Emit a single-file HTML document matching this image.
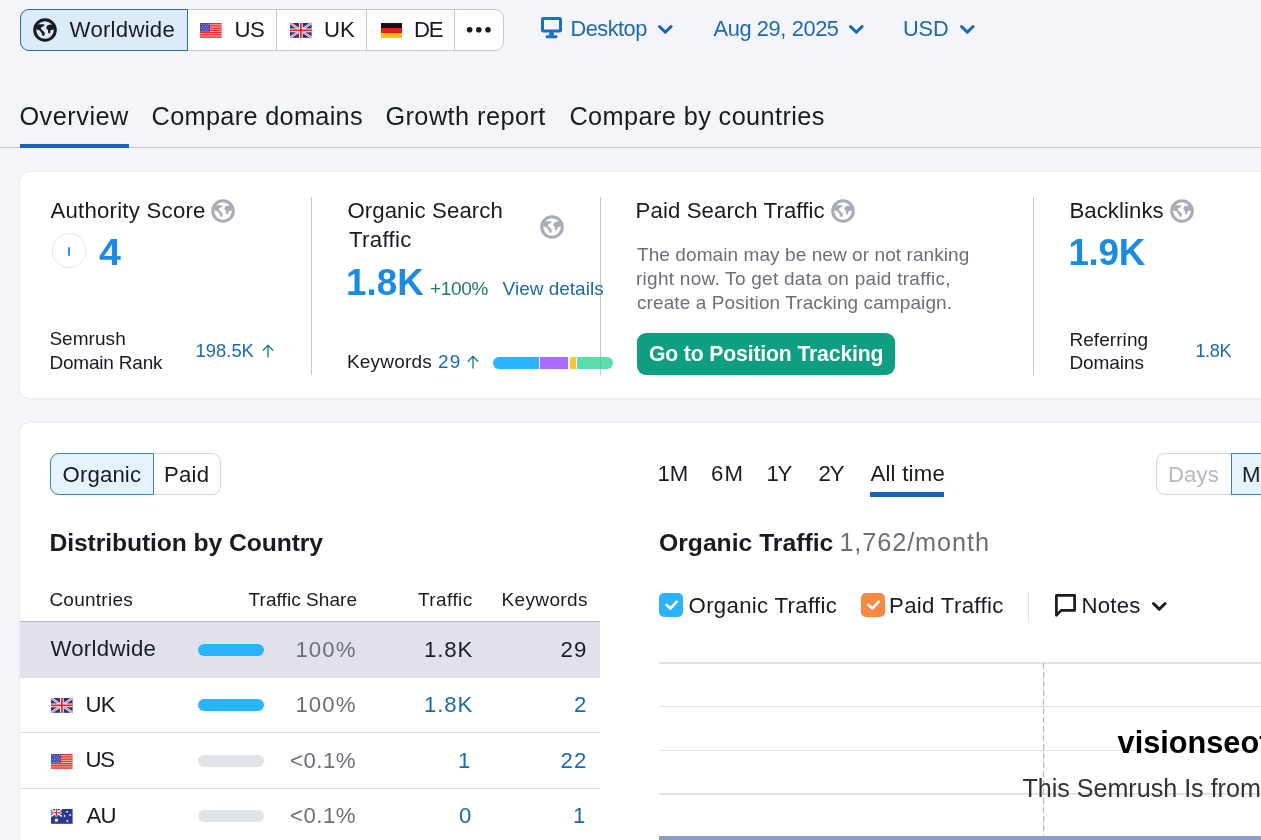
<!DOCTYPE html>
<html><head><meta charset="utf-8"><title>Domain Overview</title>
<style>
html,body{margin:0;padding:0;}
body{width:1261px;height:840px;overflow:hidden;background:#f4f5f9;font-family:"Liberation Sans",sans-serif;}
#root{position:relative;width:1261px;height:840px;overflow:hidden;will-change:transform;}
.t{position:absolute;white-space:nowrap;line-height:1;}
.a{position:absolute;box-sizing:border-box;}
svg{position:absolute;overflow:visible;}

</style></head>
<body>
<div id="root">
<!-- ===== top pill group ===== -->
<div class="a" style="left:20px;top:9px;width:484px;height:42px;background:#fff;border:1px solid #c4c7cf;border-radius:9px;"></div>
<div class="a" style="left:20px;top:9px;width:168px;height:42px;background:#dcebfa;border:1.5px solid #2d6f93;border-radius:9px 0 0 9px;"></div>
<div class="a" style="left:276px;top:10px;width:1px;height:40px;background:#c4c7cf;"></div>
<div class="a" style="left:366px;top:10px;width:1px;height:40px;background:#c4c7cf;"></div>
<div class="a" style="left:454px;top:10px;width:1px;height:40px;background:#c4c7cf;"></div>
<svg width="0" height="0" style="left:0;top:0"><defs>
<g id="globe"><circle cx="12" cy="12" r="10.3" fill="none" stroke="currentColor" stroke-width="3"/>
<path fill="currentColor" d="M2.8 9.2C3.6 7.6 4.8 6.6 5.9 6.2L10.9 6.2C11.6 6.5 11.6 7.3 11 7.7L8.1 9.4C7.7 10.2 7.9 10.8 8.5 11.5L11.2 14C11.9 15 11.9 16.3 11.5 17.3C10.9 18.3 9.8 18.3 9.4 17.6C9 16.6 8.9 15.6 8.5 14.9C8 13.8 7.2 12.8 6.4 12.2C5.4 11.6 4 11.5 2.8 11.2Z"/>
<path fill="currentColor" d="M13.3 9.6C13.5 8.2 14.3 7.3 15.4 7L18.6 6.6C19.9 6.8 20.9 7.6 21.4 8.4L21.6 11.3C20.3 11.7 18.7 11.9 17.5 12.3L17.3 14.7C17.1 15.5 16.2 15.8 15.6 15.3C15 14.4 15.1 13 15 12C14.1 11.4 13.3 10.6 13.3 9.6Z"/></g>
<g id="chev"><polyline points="1.5,1.5 7.3,7.3 13.1,1.5" fill="none" stroke="currentColor" stroke-width="3" stroke-linecap="round" stroke-linejoin="round"/></g>
<g id="up"><path d="M6 14V2.4M1.2 7.2L6 2.2L10.8 7.2" fill="none" stroke="currentColor" stroke-width="1.35" stroke-linecap="round" stroke-linejoin="round"/></g>
<g id="us"><rect width="21.6" height="14.8" fill="#f6eaea"/>
<g fill="#e8302c"><rect y="0" width="21.6" height="1.5"/><rect y="2.2" width="21.6" height="1.5"/><rect y="4.4" width="21.6" height="1.5"/><rect y="6.6" width="21.6" height="1.6"/><rect y="8.9" width="21.6" height="1.6"/><rect y="11.1" width="21.6" height="1.5"/><rect y="13.3" width="21.6" height="1.5"/></g>
<rect width="10" height="8.7" fill="#4b4ca8"/><g fill="#fff" opacity=".5"><circle cx="1.6" cy="1.6" r=".5"/><circle cx="4" cy="1.6" r=".5"/><circle cx="6.4" cy="1.6" r=".5"/><circle cx="8.6" cy="1.6" r=".5"/><circle cx="2.8" cy="3.4" r=".5"/><circle cx="5.2" cy="3.4" r=".5"/><circle cx="7.6" cy="3.4" r=".5"/><circle cx="1.6" cy="5.2" r=".5"/><circle cx="4" cy="5.2" r=".5"/><circle cx="6.4" cy="5.2" r=".5"/><circle cx="8.6" cy="5.2" r=".5"/><circle cx="2.8" cy="7" r=".5"/><circle cx="5.2" cy="7" r=".5"/><circle cx="7.6" cy="7" r=".5"/></g></g>
<g id="uk"><rect width="21.6" height="14.8" fill="#2b2f77"/>
<path d="M0 0L21.6 14.8M21.6 0L0 14.8" stroke="#e8e8f2" stroke-width="2.4"/><path d="M0 0L21.6 14.8M21.6 0L0 14.8" stroke="#d93a3a" stroke-width="0.7"/>
<path d="M10.8 0V14.8M0 7.4H21.6" stroke="#f4f4f8" stroke-width="3.8"/><path d="M10.8 0V14.8M0 7.4H21.6" stroke="#dc2430" stroke-width="1.8"/></g>
<g id="de"><rect width="21" height="5" fill="#141414"/><rect y="5" width="21" height="5" fill="#de2016"/><rect y="10" width="21" height="4.8" fill="#f7ba1c"/></g>
<g id="au"><rect width="21.6" height="14.8" fill="#2a3a8e"/>
<g transform="scale(0.5)"><path d="M0 0L21.6 14.8M21.6 0L0 14.8" stroke="#fff" stroke-width="3"/><path d="M10.8 0V14.8M0 7.4H21.6" stroke="#fff" stroke-width="4.6"/><path d="M10.8 0V14.8M0 7.4H21.6" stroke="#dc2430" stroke-width="2.2"/></g>
<g fill="#fff"><circle cx="5.4" cy="11.2" r="1.6"/><circle cx="16.2" cy="2.8" r="0.9"/><circle cx="19.2" cy="6" r="0.9"/><circle cx="13.6" cy="6.9" r="0.9"/><circle cx="16.4" cy="12" r="1"/></g></g>
</defs></svg>
<svg style="left:33px;top:18px;color:#191b23" width="24" height="24"><use href="#globe"/></svg>
<svg style="left:200.2px;top:23.1px" width="21.6" height="14.8"><use href="#us"/></svg>
<svg style="left:290.2px;top:23.1px" width="21.6" height="14.8"><use href="#uk"/></svg>
<svg style="left:380.5px;top:23.1px" width="21.6" height="14.8"><use href="#de"/></svg>
<svg style="left:466px;top:26px" width="26" height="8"><circle cx="3.6" cy="3.8" r="2.8" fill="#191b23"/><circle cx="12.8" cy="3.8" r="2.8" fill="#191b23"/><circle cx="22" cy="3.8" r="2.8" fill="#191b23"/></svg>
<!-- desktop icon -->
<svg style="left:541.4px;top:17px" width="21" height="21.5"><rect x="1.5" y="1.5" width="18" height="12.4" rx="1" fill="none" stroke="#1a6fc4" stroke-width="3"/><path d="M8.6 15h3.8l0.8 3.4h-5.4z" fill="#1a6fc4"/><rect x="4.6" y="18.2" width="11.8" height="3" rx="1.3" fill="#1a6fc4"/></svg>
<svg style="left:657.7px;top:25px;color:#1a64b0" width="15" height="9"><use href="#chev"/></svg>
<svg style="left:848.7px;top:25px;color:#1a64b0" width="15" height="9"><use href="#chev"/></svg>
<svg style="left:960.2px;top:25px;color:#1a64b0" width="15" height="9"><use href="#chev"/></svg>
<!-- ===== tabs ===== -->
<div class="a" style="left:0;top:147px;width:1261px;height:1px;background:#c4c7cf;"></div>
<div class="a" style="left:20px;top:144px;width:109px;height:4px;background:#1663b8;"></div>
<!-- ===== card 1 ===== -->
<div class="a" style="left:20px;top:172px;width:1300px;height:226px;background:#fff;border-radius:9px;box-shadow:0 0 2px rgba(25,27,35,0.14);"></div>
<!-- authority -->
<svg style="left:211px;top:199px;color:#a9abb6" width="24" height="24"><use href="#globe"/></svg>
<div class="a" style="left:51.6px;top:233.4px;width:34.4px;height:34.4px;border:1.7px solid #e6e7ec;border-radius:50%;"></div>
<div class="a" style="left:67.6px;top:246.6px;width:2.2px;height:9.4px;background:#2a8fe0;border-radius:1px;"></div>
<svg style="left:261.8px;top:343px;color:#1a8076" width="12" height="15"><use href="#up"/></svg>
<!-- organic -->
<svg style="left:540px;top:214.7px;color:#a9abb6" width="24" height="24"><use href="#globe"/></svg>
<svg style="left:467.2px;top:354px;color:#1a8076" width="12" height="15"><use href="#up"/></svg>
<div class="a" style="left:492.7px;top:357.3px;width:120.6px;height:12px;border-radius:6px;overflow:hidden;background:#fff;">
 <div class="a" style="left:0;top:0;width:46px;height:12px;background:#2bb3ff;"></div>
 <div class="a" style="left:47.3px;top:0;width:27.7px;height:12px;background:#ab6cfe;"></div>
 <div class="a" style="left:77.6px;top:0;width:5.8px;height:12px;background:#fdc23c;"></div>
 <div class="a" style="left:84.6px;top:0;width:36px;height:12px;background:#59ddaa;"></div>
</div>
<div class="a" style="left:311px;top:197px;width:1px;height:178px;background:#c4c7cf;"></div>
<div class="a" style="left:600px;top:197px;width:1px;height:178px;background:rgba(150,155,170,0.55);"></div>
<div class="a" style="left:1033px;top:197px;width:1px;height:178px;background:#c4c7cf;"></div>
<!-- paid -->
<svg style="left:831px;top:199px;color:#a9abb6" width="24" height="24"><use href="#globe"/></svg>
<div class="a" style="left:637px;top:333px;width:258px;height:42px;background:#0e9f82;border-radius:9px;"></div>
<!-- backlinks -->
<svg style="left:1170px;top:199px;color:#a9abb6" width="24" height="24"><use href="#globe"/></svg>
<!-- ===== card 2 ===== -->
<div class="a" style="left:20px;top:423px;width:1300px;height:500px;background:#fff;border-radius:9px;box-shadow:0 0 2px rgba(25,27,35,0.14);"></div>
<!-- organic/paid pill -->
<div class="a" style="left:50px;top:453px;width:171px;height:42px;background:#fff;border:1px solid #d2d4da;border-radius:9px;"></div>
<div class="a" style="left:50px;top:453px;width:104px;height:42px;background:#e7f3fc;border:1.2px solid #3b82b4;border-radius:9px 0 0 9px;"></div>
<!-- table -->
<div class="a" style="left:20px;top:621px;width:579.5px;height:56.8px;background:#e0e1e9;"></div>
<div class="a" style="left:20px;top:620.6px;width:579.5px;height:1.2px;background:#b4b7c2;"></div>
<div class="a" style="left:20px;top:732px;width:579.5px;height:1px;background:#e0e1e9;"></div>
<div class="a" style="left:20px;top:787.8px;width:579.5px;height:1px;background:#e0e1e9;"></div>
<div class="a" style="left:198px;top:644px;width:66px;height:12px;border-radius:6px;background:#2bb3ff;"></div>
<div class="a" style="left:198px;top:699.3px;width:66px;height:12px;border-radius:6px;background:#2bb3ff;"></div>
<div class="a" style="left:198px;top:755px;width:66px;height:12px;border-radius:6px;background:#e0e4e8;"></div>
<div class="a" style="left:198px;top:810.3px;width:66px;height:12px;border-radius:6px;background:#e0e4e8;"></div>
<svg style="left:51.2px;top:698.4px" width="21.6" height="14.8"><use href="#uk"/></svg>
<svg style="left:51.2px;top:754.2px" width="21.6" height="14.8"><use href="#us"/></svg>
<svg style="left:51.2px;top:809.4px" width="21.6" height="14.8"><use href="#au"/></svg>
<!-- period tabs underline -->
<div class="a" style="left:870px;top:492px;width:74px;height:4.5px;background:#1663b8;"></div>
<!-- days/months pill -->
<div class="a" style="left:1156px;top:453px;width:140px;height:42px;background:#fff;border:1px solid #d2d4da;border-radius:9px;"></div>
<div class="a" style="left:1231px;top:453px;width:70px;height:42px;background:#e7f3fc;border:1.2px solid #3b82b4;"></div>
<!-- checkboxes -->
<div class="a" style="left:659.3px;top:592.7px;width:24px;height:24px;background:#2bb3ff;border-radius:5px;"></div>
<svg style="left:659.3px;top:592.7px" width="24" height="24"><polyline points="7.4,11.8 11.4,15.5 17.8,8.7" fill="none" stroke="#fff" stroke-width="2.6" stroke-linecap="round" stroke-linejoin="round"/></svg>
<div class="a" style="left:860.7px;top:592.7px;width:24px;height:24px;background:#f68a45;border-radius:5px;"></div>
<svg style="left:860.7px;top:592.7px" width="24" height="24"><polyline points="7.4,11.8 11.4,15.5 17.8,8.7" fill="none" stroke="#fff" stroke-width="2.6" stroke-linecap="round" stroke-linejoin="round"/></svg>
<div class="a" style="left:1028px;top:591.7px;width:1px;height:30px;background:#e0e1e7;"></div>
<!-- notes icon -->
<svg style="left:1054.8px;top:593.6px" width="21" height="23"><path d="M1.4 21.2V1.4H19.6V16.4H6.2Z" fill="none" stroke="#191b23" stroke-width="2.7" stroke-linejoin="round"/></svg>
<svg style="left:1151.7px;top:602px;color:#191b23" width="15" height="9"><use href="#chev"/></svg>
<!-- chart -->
<div class="a" style="left:659px;top:662.2px;width:602px;height:1.4px;background:#e2e3e8;"></div>
<div class="a" style="left:659px;top:705.9px;width:602px;height:1.4px;background:#e2e3e8;"></div>
<div class="a" style="left:659px;top:749.5px;width:602px;height:1.4px;background:#e2e3e8;"></div>
<div class="a" style="left:659px;top:793.4px;width:602px;height:1.4px;background:#e2e3e8;"></div>
<div class="a" style="left:659px;top:836px;width:602px;height:4px;background:#8aa0c2;"></div>
<svg style="left:1042.8px;top:663px" width="2" height="174"><line x1="0.6" y1="0" x2="0.6" y2="174" stroke="#b8b8b8" stroke-width="1.2" stroke-dasharray="6 3"/></svg>

<span class="t" style="left:69.6px;top:18.51px;font-size:22.2px;font-weight:400;color:#191b23;letter-spacing:0.25px;">Worldwide</span>
<span class="t" style="left:234.6px;top:18.51px;font-size:22.2px;font-weight:400;color:#191b23;letter-spacing:-0.60px;">US</span>
<span class="t" style="left:324.0px;top:18.51px;font-size:22.2px;font-weight:400;color:#191b23;letter-spacing:0.00px;">UK</span>
<span class="t" style="left:413.9px;top:18.51px;font-size:22.2px;font-weight:400;color:#191b23;letter-spacing:-1.20px;">DE</span>
<span class="t" style="left:570.4px;top:17.55px;font-size:21.8px;font-weight:400;color:#1c69ad;letter-spacing:-0.50px;">Desktop</span>
<span class="t" style="left:713.6px;top:17.55px;font-size:21.8px;font-weight:400;color:#1c69ad;letter-spacing:-0.39px;">Aug 29, 2025</span>
<span class="t" style="left:903.0px;top:17.55px;font-size:21.8px;font-weight:400;color:#1c69ad;letter-spacing:-0.15px;">USD</span>
<span class="t" style="left:19.4px;top:103.58px;font-size:25.3px;font-weight:400;color:#191b23;letter-spacing:0.51px;">Overview</span>
<span class="t" style="left:151.6px;top:103.58px;font-size:25.3px;font-weight:400;color:#191b23;letter-spacing:0.31px;">Compare domains</span>
<span class="t" style="left:385.4px;top:103.58px;font-size:25.3px;font-weight:400;color:#191b23;letter-spacing:0.44px;">Growth report</span>
<span class="t" style="left:569.4px;top:103.58px;font-size:25.3px;font-weight:400;color:#191b23;letter-spacing:0.40px;">Compare by countries</span>
<span class="t" style="left:50.4px;top:199.51px;font-size:22.2px;font-weight:400;color:#191b23;letter-spacing:0.24px;">Authority Score</span>
<span class="t" style="left:98.6px;top:234.93px;font-size:36.7px;font-weight:700;color:#1a8ae2;letter-spacing:0.00px;transform:scaleX(1.07);transform-origin:left center;">4</span>
<span class="t" style="left:49.4px;top:328.92px;font-size:19.0px;font-weight:400;color:#191b23;letter-spacing:0.05px;">Semrush</span>
<span class="t" style="left:49.4px;top:353.22px;font-size:19.0px;font-weight:400;color:#191b23;letter-spacing:-0.20px;">Domain Rank</span>
<span class="t" style="left:195.6px;top:341.72px;font-size:18.4px;font-weight:400;color:#1c69ad;letter-spacing:0.00px;">198.5K</span>
<span class="t" style="left:347.4px;top:200.21px;font-size:22.2px;font-weight:400;color:#191b23;letter-spacing:0.10px;">Organic Search</span>
<span class="t" style="left:349.0px;top:229.21px;font-size:22.2px;font-weight:400;color:#191b23;letter-spacing:0.33px;">Traffic</span>
<span class="t" style="left:346.0px;top:264.93px;font-size:36.7px;font-weight:700;color:#1a8ae2;letter-spacing:0.07px;">1.8K</span>
<span class="t" style="left:430.0px;top:278.92px;font-size:19.0px;font-weight:400;color:#1f7a6c;letter-spacing:-0.33px;">+100%</span>
<span class="t" style="left:502.6px;top:278.92px;font-size:19.0px;font-weight:400;color:#1c69ad;letter-spacing:-0.00px;">View details</span>
<span class="t" style="left:347.0px;top:352.22px;font-size:19.0px;font-weight:400;color:#191b23;letter-spacing:0.19px;">Keywords</span>
<span class="t" style="left:438.1px;top:352.22px;font-size:19.0px;font-weight:400;color:#1c69ad;letter-spacing:1.00px;">29</span>
<span class="t" style="left:635.6px;top:199.51px;font-size:22.2px;font-weight:400;color:#191b23;letter-spacing:0.11px;">Paid Search Traffic</span>
<span class="t" style="left:637.0px;top:244.92px;font-size:19.0px;font-weight:400;color:#6d6f78;letter-spacing:0.08px;">The domain may be new or not ranking</span>
<span class="t" style="left:636.0px;top:269.22px;font-size:19.0px;font-weight:400;color:#6d6f78;letter-spacing:0.26px;">right now. To get data on paid traffic,</span>
<span class="t" style="left:637.0px;top:293.22px;font-size:19.0px;font-weight:400;color:#6d6f78;letter-spacing:0.10px;">create a Position Tracking campaign.</span>
<span class="t" style="left:649.0px;top:343.05px;font-size:21.2px;font-weight:700;color:#ffffff;letter-spacing:-0.15px;">Go to Position Tracking</span>
<span class="t" style="left:1069.4px;top:199.51px;font-size:22.2px;font-weight:400;color:#191b23;letter-spacing:0.07px;">Backlinks</span>
<span class="t" style="left:1068.4px;top:234.93px;font-size:36.7px;font-weight:700;color:#1a8ae2;letter-spacing:-0.23px;">1.9K</span>
<span class="t" style="left:1069.4px;top:330.42px;font-size:19.0px;font-weight:400;color:#191b23;letter-spacing:0.07px;">Referring</span>
<span class="t" style="left:1069.4px;top:353.22px;font-size:19.0px;font-weight:400;color:#191b23;letter-spacing:-0.07px;">Domains</span>
<span class="t" style="left:1195.4px;top:342.06px;font-size:18.0px;font-weight:400;color:#1c69ad;letter-spacing:-0.33px;">1.8K</span>
<span class="t" style="left:62.6px;top:463.91px;font-size:22.2px;font-weight:400;color:#191b23;letter-spacing:0.12px;">Organic</span>
<span class="t" style="left:164.0px;top:463.91px;font-size:22.2px;font-weight:400;color:#191b23;letter-spacing:0.23px;">Paid</span>
<span class="t" style="left:49.4px;top:530.79px;font-size:24.7px;font-weight:700;color:#191b23;letter-spacing:-0.09px;">Distribution by Country</span>
<span class="t" style="left:49.4px;top:589.92px;font-size:19.0px;font-weight:400;color:#191b23;letter-spacing:0.25px;">Countries</span>
<span class="t" style="left:248.6px;top:589.92px;font-size:19.0px;font-weight:400;color:#191b23;letter-spacing:0.06px;">Traffic Share</span>
<span class="t" style="left:418.0px;top:589.92px;font-size:19.0px;font-weight:400;color:#191b23;letter-spacing:0.42px;">Traffic</span>
<span class="t" style="left:501.6px;top:589.92px;font-size:19.0px;font-weight:400;color:#191b23;letter-spacing:0.34px;">Keywords</span>
<span class="t" style="left:50.4px;top:638.21px;font-size:22.2px;font-weight:400;color:#191b23;letter-spacing:0.29px;">Worldwide</span>
<span class="t" style="left:295.4px;top:639.21px;font-size:22.2px;font-weight:400;color:#6d6f78;letter-spacing:1.10px;">100%</span>
<span class="t" style="left:424.0px;top:639.21px;font-size:22.2px;font-weight:400;color:#191b23;letter-spacing:0.90px;">1.8K</span>
<span class="t" style="left:560.6px;top:639.21px;font-size:22.2px;font-weight:400;color:#191b23;letter-spacing:1.00px;">29</span>
<span class="t" style="left:85.4px;top:694.21px;font-size:22.2px;font-weight:400;color:#191b23;letter-spacing:-0.70px;">UK</span>
<span class="t" style="left:295.4px;top:694.21px;font-size:22.2px;font-weight:400;color:#6d6f78;letter-spacing:1.10px;">100%</span>
<span class="t" style="left:424.0px;top:694.21px;font-size:22.2px;font-weight:400;color:#1c69ad;letter-spacing:0.90px;">1.8K</span>
<span class="t" style="left:574.0px;top:694.21px;font-size:22.2px;font-weight:400;color:#1c69ad;letter-spacing:0.00px;">2</span>
<span class="t" style="left:85.4px;top:749.21px;font-size:22.2px;font-weight:400;color:#191b23;letter-spacing:-1.20px;">US</span>
<span class="t" style="left:290.0px;top:750.21px;font-size:22.2px;font-weight:400;color:#6d6f78;letter-spacing:0.50px;">&lt;0.1%</span>
<span class="t" style="left:458.0px;top:750.21px;font-size:22.2px;font-weight:400;color:#1c69ad;letter-spacing:0.00px;">1</span>
<span class="t" style="left:560.6px;top:750.21px;font-size:22.2px;font-weight:400;color:#1c69ad;letter-spacing:1.00px;">22</span>
<span class="t" style="left:86.4px;top:805.21px;font-size:22.2px;font-weight:400;color:#191b23;letter-spacing:-0.70px;">AU</span>
<span class="t" style="left:290.0px;top:805.21px;font-size:22.2px;font-weight:400;color:#6d6f78;letter-spacing:0.50px;">&lt;0.1%</span>
<span class="t" style="left:459.0px;top:805.21px;font-size:22.2px;font-weight:400;color:#1c69ad;letter-spacing:0.00px;">0</span>
<span class="t" style="left:573.0px;top:805.21px;font-size:22.2px;font-weight:400;color:#1c69ad;letter-spacing:0.00px;">1</span>
<span class="t" style="left:657.6px;top:463.21px;font-size:22.2px;font-weight:400;color:#191b23;letter-spacing:-0.30px;">1M</span>
<span class="t" style="left:711.1px;top:463.21px;font-size:22.2px;font-weight:400;color:#191b23;letter-spacing:1.00px;">6M</span>
<span class="t" style="left:766.4px;top:463.21px;font-size:22.2px;font-weight:400;color:#191b23;letter-spacing:-1.20px;">1Y</span>
<span class="t" style="left:818.5px;top:463.21px;font-size:22.2px;font-weight:400;color:#191b23;letter-spacing:-1.20px;">2Y</span>
<span class="t" style="left:870.4px;top:463.21px;font-size:22.2px;font-weight:400;color:#191b23;letter-spacing:0.23px;">All time</span>
<span class="t" style="left:1168.0px;top:463.91px;font-size:22.2px;font-weight:400;color:#b7b9c1;letter-spacing:0.10px;">Days</span>
<span class="t" style="left:1242.0px;top:463.91px;font-size:22.2px;font-weight:400;color:#191b23;letter-spacing:0.00px;">Months</span>
<span class="t" style="left:659.0px;top:530.79px;font-size:24.7px;font-weight:700;color:#191b23;letter-spacing:0.00px;">Organic Traffic</span>
<span class="t" style="left:839.4px;top:530.28px;font-size:25.3px;font-weight:400;color:#6d6f78;letter-spacing:0.90px;">1,762/month</span>
<span class="t" style="left:688.6px;top:594.51px;font-size:22.2px;font-weight:400;color:#191b23;letter-spacing:0.31px;">Organic Traffic</span>
<span class="t" style="left:889.0px;top:594.51px;font-size:22.2px;font-weight:400;color:#191b23;letter-spacing:0.34px;">Paid Traffic</span>
<span class="t" style="left:1081.6px;top:594.51px;font-size:22.2px;font-weight:400;color:#191b23;letter-spacing:0.18px;">Notes</span>
<span class="t" style="left:1117.6px;top:727.71px;font-size:30.7px;font-weight:700;color:#000000;letter-spacing:0.00px;">visionseotools.com</span>
<span class="t" style="left:1022.4px;top:776.45px;font-size:25.1px;font-weight:400;color:#333333;letter-spacing:0.00px;">This Semrush Is from visionseotools.com</span>
</div>
</body></html>
